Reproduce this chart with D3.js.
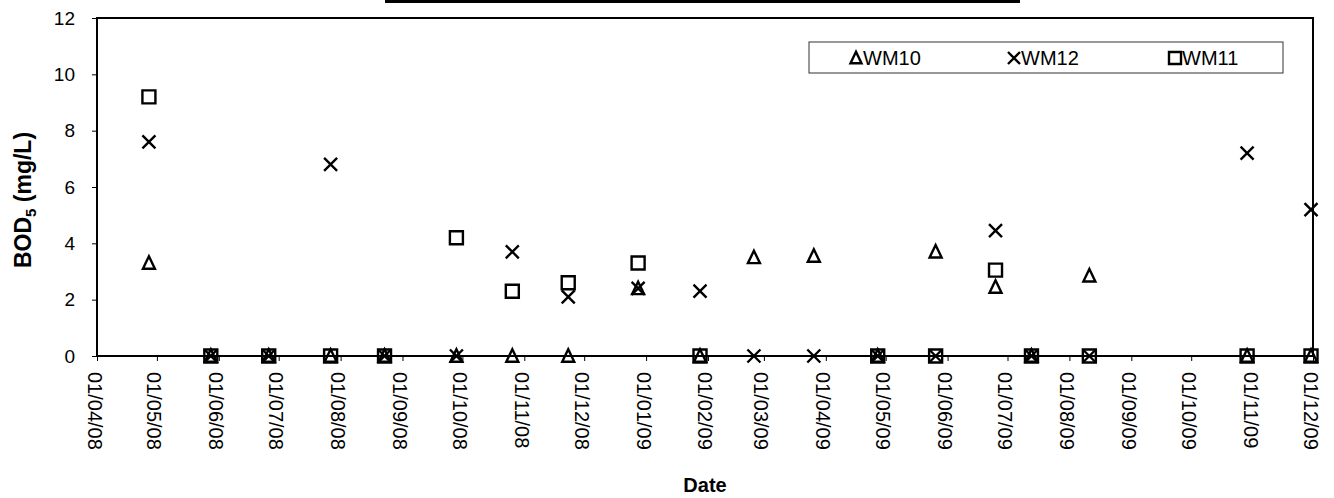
<!DOCTYPE html>
<html><head><meta charset="utf-8">
<script src="https://cdn.jsdelivr.net/npm/d3@7"></script>
<style>body{margin:0;background:#fff;} text{font-family:"Liberation Sans",Arial,sans-serif;fill:#000;}</style>
</head><body><svg id="c" width="1334" height="498"></svg>
<script>
// ---- data ----
const sampleDates = ["2008-04-27","2008-05-28","2008-06-26","2008-07-27","2008-08-23","2008-09-28",
  "2008-10-26","2008-11-23","2008-12-28","2009-01-28","2009-02-24","2009-03-26","2009-04-27",
  "2009-05-26","2009-06-25","2009-07-13","2009-08-11","2009-10-29","2009-11-30"];
const wm10 = [3.3,0,0,0,0,0, 0,0,2.4,0,3.5,3.55,0, 3.7,2.45,0,2.85,0,0];
const wm12 = [7.6,0,0,6.8,0,0, 3.7,2.1,2.4,2.3,0,0,0, 0,4.45,0,0,7.2,5.2];
const wm11 = [9.2,0,0,0,0,4.2, 2.3,2.6,3.3,0,null,null,0, 0,3.05,0,0,0,0];
const seriesNames = ["WM10","WM12","WM11"];
const yTicks = [0,2,4,6,8,10,12];
const xTickDates = ["2008-04-01","2008-05-01","2008-06-01","2008-07-01","2008-08-01","2008-09-01",
  "2008-10-01","2008-11-01","2008-12-01","2009-01-01","2009-02-01","2009-03-01","2009-04-01",
  "2009-05-01","2009-06-01","2009-07-01","2009-08-01","2009-09-01","2009-10-01","2009-11-01","2009-12-01"];
const xTitle = "Date";

// ---- layout ----
const svg = d3.select("#c");
const L = 97, R = 1313, T = 18, B = 356;
const parse = d3.utcParse("%Y-%m-%d");
const x = d3.scaleUtc().domain([parse(xTickDates[0]), parse(xTickDates[xTickDates.length-1])]).range([L, R]);
const y = d3.scaleLinear().domain([0, 12]).range([B, T]);

// title underline (cut off at top)
svg.append("rect").attr("x", 385).attr("y", 0).attr("width", 635).attr("height", 3).attr("fill", "#000");

// y axis
const ya = svg.append("g").attr("transform", `translate(${L},0)`)
  .call(d3.axisLeft(y).tickValues(yTicks).tickSize(5).tickPadding(17).tickFormat(d3.format("d")));
ya.select(".domain").remove();
ya.selectAll("text").style("font-size", "19px").style("font-family", "Liberation Sans, Arial, sans-serif");
ya.selectAll("line").attr("stroke", "#000");

// x axis
const xa = svg.append("g").attr("transform", `translate(0,${B})`)
  .call(d3.axisBottom(x).tickValues(xTickDates.map(parse)).tickSize(5).tickFormat(d3.utcFormat("%d/%m/%y")));
xa.select(".domain").remove();
xa.selectAll("line").attr("stroke", "#000");
xa.selectAll("text")
  .style("font-size", "20px").style("font-family", "Liberation Sans, Arial, sans-serif")
  .attr("text-anchor", "start").attr("y", 0).attr("x", 0).attr("dy", "0.35em")
  .attr("transform", "translate(-3,16) rotate(90)");

// frame
svg.append("rect").attr("x", L).attr("y", T).attr("width", R - L).attr("height", B - T)
  .attr("fill", "none").attr("stroke", "#000").attr("stroke-width", 2);

// axis titles
svg.append("text").attr("transform", `translate(31,200) rotate(-90)`)
  .attr("text-anchor", "middle").style("font-size", "23px").style("font-weight", "bold")
  .html('BOD<tspan dy="5" font-size="15px">5</tspan><tspan dy="-5"> (mg/L)</tspan>');
svg.append("text").attr("x", (L + R) / 2).attr("y", 492).attr("text-anchor", "middle")
  .style("font-size", "20px").style("font-weight", "bold").text(xTitle);

// marker shapes
function triPath(s) { const h = s * 0.95; return `M0,${-h/2-1}L${s/2},${h/2}L${-s/2},${h/2}Z`; }
function crossPath(s) { const h = s / 2; return `M${-h},${-h}L${h},${h}M${-h},${h}L${h},${-h}`; }
function sqPath(s) { const h = s / 2; return `M${-h},${-h}H${h}V${h}H${-h}Z`; }
const shapes = [triPath(12), crossPath(13), sqPath(13)];
const allSeries = [wm10, wm12, wm11];

const plot = svg.append("g");
[2, 1, 0].forEach(si => {
  const pts = sampleDates.map((d, i) => ({ d: parse(d), v: allSeries[si][i] })).filter(p => p.v != null);
  plot.append("g").selectAll("path").data(pts).join("path")
    .attr("transform", p => `translate(${x(p.d)},${y(p.v)})`)
    .attr("d", shapes[si]).attr("fill", "none").attr("stroke", "#000").attr("stroke-width", 2.4);
});

// legend
const lg = svg.append("g");
lg.append("rect").attr("x", 809).attr("y", 42).attr("width", 474).attr("height", 31)
  .attr("fill", "#fff").attr("stroke", "#333").attr("stroke-width", 1);
const legX = [856, 1014, 1175];
[0, 1, 2].forEach(i => {
  lg.append("path").attr("transform", `translate(${legX[i]},58)`).attr("d", [triPath(11), crossPath(12), sqPath(12)][i])
    .attr("fill", "none").attr("stroke", "#000").attr("stroke-width", 2.4);
  lg.append("text").attr("x", legX[i] + 7).attr("y", 65).style("font-size", "20px").text(seriesNames[i]);
});
</script></body></html>
